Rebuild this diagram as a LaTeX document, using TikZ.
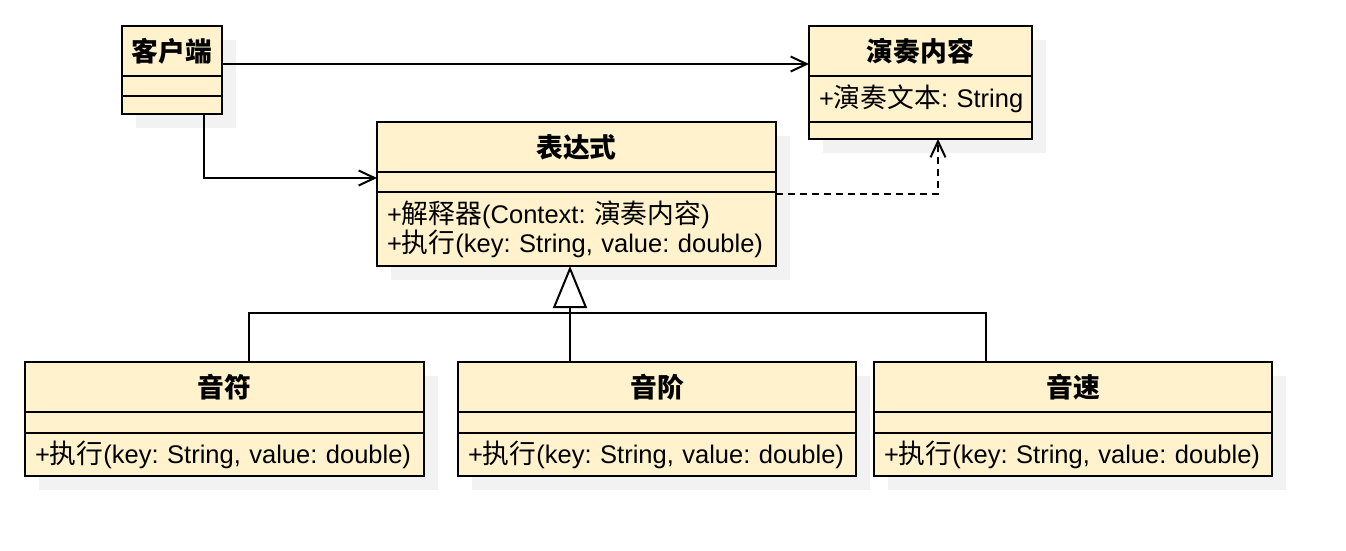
\documentclass[tikz,border=0pt]{standalone}
\usepackage{fontspec}
\setmainfont{Liberation Sans}
\newfontfamily\cjk{Noto Sans CJK SC}[Scale=1.05]
\usepackage{tikz}
\usetikzlibrary{arrows.meta}
\usetikzlibrary{positioning}
\usetikzlibrary{shadows}
\definecolor{classfill}{HTML}{FFF2CC}
\definecolor{shadowgray}{HTML}{F2F2F2}
\newcommand\umlfont{\fontsize{25.5}{29}\selectfont\frenchspacing}
\tikzset{
    classbox/.style={draw=black, fill=classfill, line width=2pt,
        inner xsep=10pt, inner ysep=0pt, outer sep=0pt, font=\umlfont,
        drop shadow={shadow xshift=14pt, shadow yshift=-14pt, fill=shadowgray, opacity=1}},
    classname/.style={classbox, font=\umlfont\bfseries, align=center},
    members/.style={classbox, align=left},
    assoc/.style={draw=black, -{Straight Barb[length=16pt,width=15pt]}},
    depend/.style={draw=black, dash pattern=on 7pt off 5pt, -{Straight Barb[length=16pt,width=15pt]}},
    inherit/.style={draw=black, -{Triangle[length=42pt,width=34pt,fill=white]}},
    treeline/.style={draw=black},
}
\begin{document}
\begin{tikzpicture}[x=1pt, y=-1pt, line width=2pt]
	\useasboundingbox (0,0) rectangle (1346,550);
	% client
	\node[classname, minimum width=100, minimum height=50] (client) at (172,51) {\cjk 客户端};
	\node[members, minimum width=100, minimum height=20, below=0pt of client] (client-attr) {};
	\node[members, minimum width=100, minimum height=18, below=0pt of client-attr] (client-ops) {};
	% context
	\node[classname, minimum width=223, minimum height=50] (context) at (920.5,51) {\cjk 演奏内容};
	\node[members, minimum width=223, minimum height=46, text width=203, below=0pt of context] (context-attr) {\mbox{+{\cjk 演奏文本}: String}};
	\node[members, minimum width=223, minimum height=17, below=0pt of context-attr] (context-ops) {};
	% expression
	\node[classname, minimum width=399, minimum height=50] (expression) at (576.5,147) {\cjk 表达式};
	\node[members, minimum width=399, minimum height=20, below=0pt of expression] (expression-attr) {};
	\node[members, minimum width=399, minimum height=74, text width=379, below=0pt of expression-attr] (expression-ops)
		{+{\cjk 解释器}(Context: {\cjk 演奏内容})\\+{\cjk 执行}(key: String, value: double)};
	%
	\node[classname, minimum width=399, minimum height=50] (note) at (224.5,387) {\cjk 音符};
	\node[members, minimum width=399, minimum height=21, below=0pt of note] (note-attr) {};
	\node[members, minimum width=399, minimum height=43, text width=379, below=0pt of note-attr] (note-ops)
		{+{\cjk 执行}(key: String, value: double)};
	%
	\node[classname, minimum width=398, minimum height=50] (pitch) at (657,387) {\cjk 音阶};
	\node[members, minimum width=398, minimum height=21, below=0pt of pitch] (pitch-attr) {};
	\node[members, minimum width=398, minimum height=43, text width=378, below=0pt of pitch-attr] (pitch-ops)
		{+{\cjk 执行}(key: String, value: double)};
	%
	\node[classname, minimum width=398, minimum height=50] (tempo) at (1073,387) {\cjk 音速};
	\node[members, minimum width=398, minimum height=21, below=0pt of tempo] (tempo-attr) {};
	\node[members, minimum width=398, minimum height=43, text width=378, below=0pt of tempo-attr] (tempo-ops)
		{+{\cjk 执行}(key: String, value: double)};
	% connectors
	\draw[assoc] ([yshift=-13pt]client.east) -- ([yshift=-13pt]context.west);
	\draw[assoc] ([xshift=32pt]client-ops.south) |- ([yshift=4pt]expression-attr.west);
	\draw[depend] ([yshift=-2pt]expression-attr.south east) -| ([xshift=17.5pt]context-ops.south);
	\draw[inherit] ([xshift=-87pt]pitch.north) -- ([xshift=-6.5pt]expression-ops.south);
	\draw[treeline] ([xshift=24.5pt]note.north) |- ([xshift=-87pt,yshift=49pt]tempo.north) -- ([xshift=-87pt]tempo.north);
\end{tikzpicture}
\end{document}
